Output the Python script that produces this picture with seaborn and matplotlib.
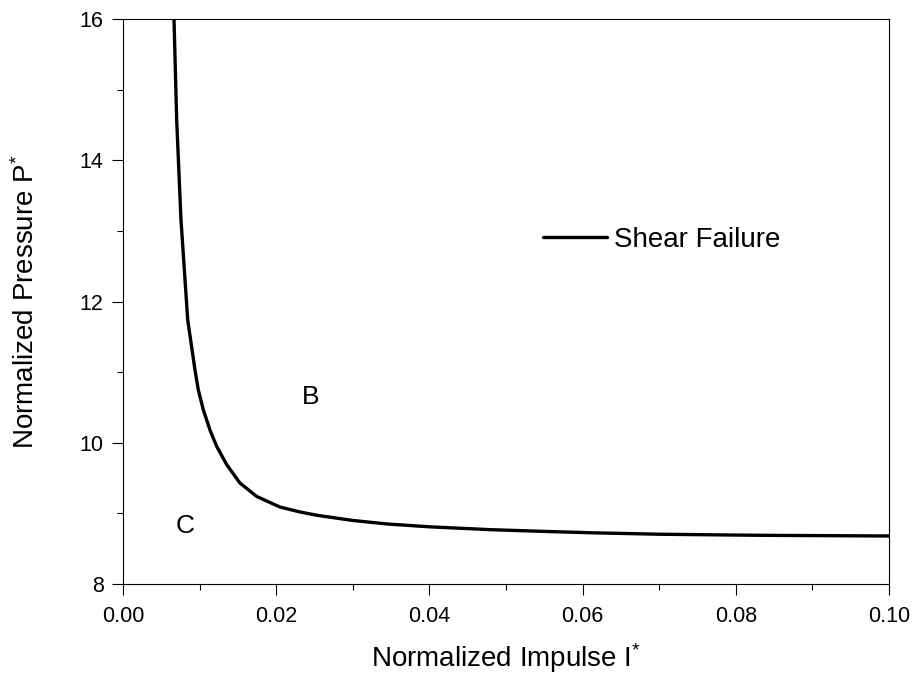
import matplotlib
matplotlib.use("Agg")
import matplotlib.pyplot as plt
import seaborn as sns
import pandas as pd
from matplotlib.ticker import MultipleLocator

impulse = [0.00645, 0.00666, 0.00701, 0.00757, 0.00845, 0.00940, 0.00983, 0.01048,
           0.01136, 0.01223, 0.01354, 0.01527, 0.01745, 0.02050, 0.02311, 0.02550,
           0.0300, 0.0345, 0.0400, 0.0479, 0.0550, 0.0614, 0.0700, 0.0830, 0.1000]
pressure = [16.5, 16.0, 14.57, 13.16, 11.74, 11.03, 10.75, 10.47,
            10.18, 9.95, 9.69, 9.43, 9.24, 9.09, 9.02, 8.97,
            8.90, 8.85, 8.81, 8.77, 8.745, 8.725, 8.705, 8.69, 8.68]
series_name = "Shear Failure"
region_labels = ["B", "C"]
region_x = [0.0245, 0.0081]
region_y = [10.65, 8.82]

sns.set_style("ticks")
plt.rcParams["font.family"] = ["Liberation Sans", "DejaVu Sans"]
plt.rcParams["mathtext.default"] = "regular"
for k in ["text.color", "axes.labelcolor", "xtick.color", "ytick.color", "axes.edgecolor"]:
    plt.rcParams[k] = "black"

df = pd.DataFrame({"I": impulse, "P": pressure, "s": series_name})

fig = plt.figure(figsize=(9.13, 6.81), dpi=100)
ax = fig.add_axes([0.1347, 0.1424, 0.839, 0.8297])
sns.lineplot(data=df, x="I", y="P", color="black", linewidth=2.4, ax=ax,
             sort=False, estimator=None, label=series_name)

ax.set_xlim(0, 0.10)
ax.set_ylim(8, 16)
ax.xaxis.set_major_locator(MultipleLocator(0.02))
ax.xaxis.set_minor_locator(MultipleLocator(0.01))
ax.yaxis.set_major_locator(MultipleLocator(2))
ax.yaxis.set_minor_locator(MultipleLocator(1))
ax.set_xticklabels([f"{v:.2f}" for v in ax.get_xticks()])
ax.set_yticklabels([f"{v:.0f}" for v in ax.get_yticks()])
ax.tick_params(which="major", direction="out", length=8, width=0.8, labelsize=15.5, color="black")
ax.tick_params(which="minor", direction="out", length=4, width=0.8, color="black")
ax.tick_params(axis="x", pad=8)
ax.tick_params(axis="y", pad=6)
for s in ax.spines.values():
    s.set_visible(True)
    s.set_linewidth(0.8)
    s.set_color("black")

ax.set_xlabel("Normalized Impulse I$^{*}$", fontsize=20)
ax.set_ylabel("Normalized Pressure P$^{*}$", fontsize=20)
ax.xaxis.set_label_coords(0.5, -0.101)
ax.yaxis.set_label_coords(-0.108, 0.5)

for lab, x, y in zip(region_labels, region_x, region_y):
    ax.text(x, y, lab, fontsize=19, ha="center", va="center")

leg = ax.legend(loc="center left", bbox_to_anchor=(0.548, 0.609), frameon=False,
                fontsize=20, handlelength=2.3, handletextpad=0.25,
                borderpad=0, borderaxespad=0)

fig.savefig("out.png", dpi=100)
